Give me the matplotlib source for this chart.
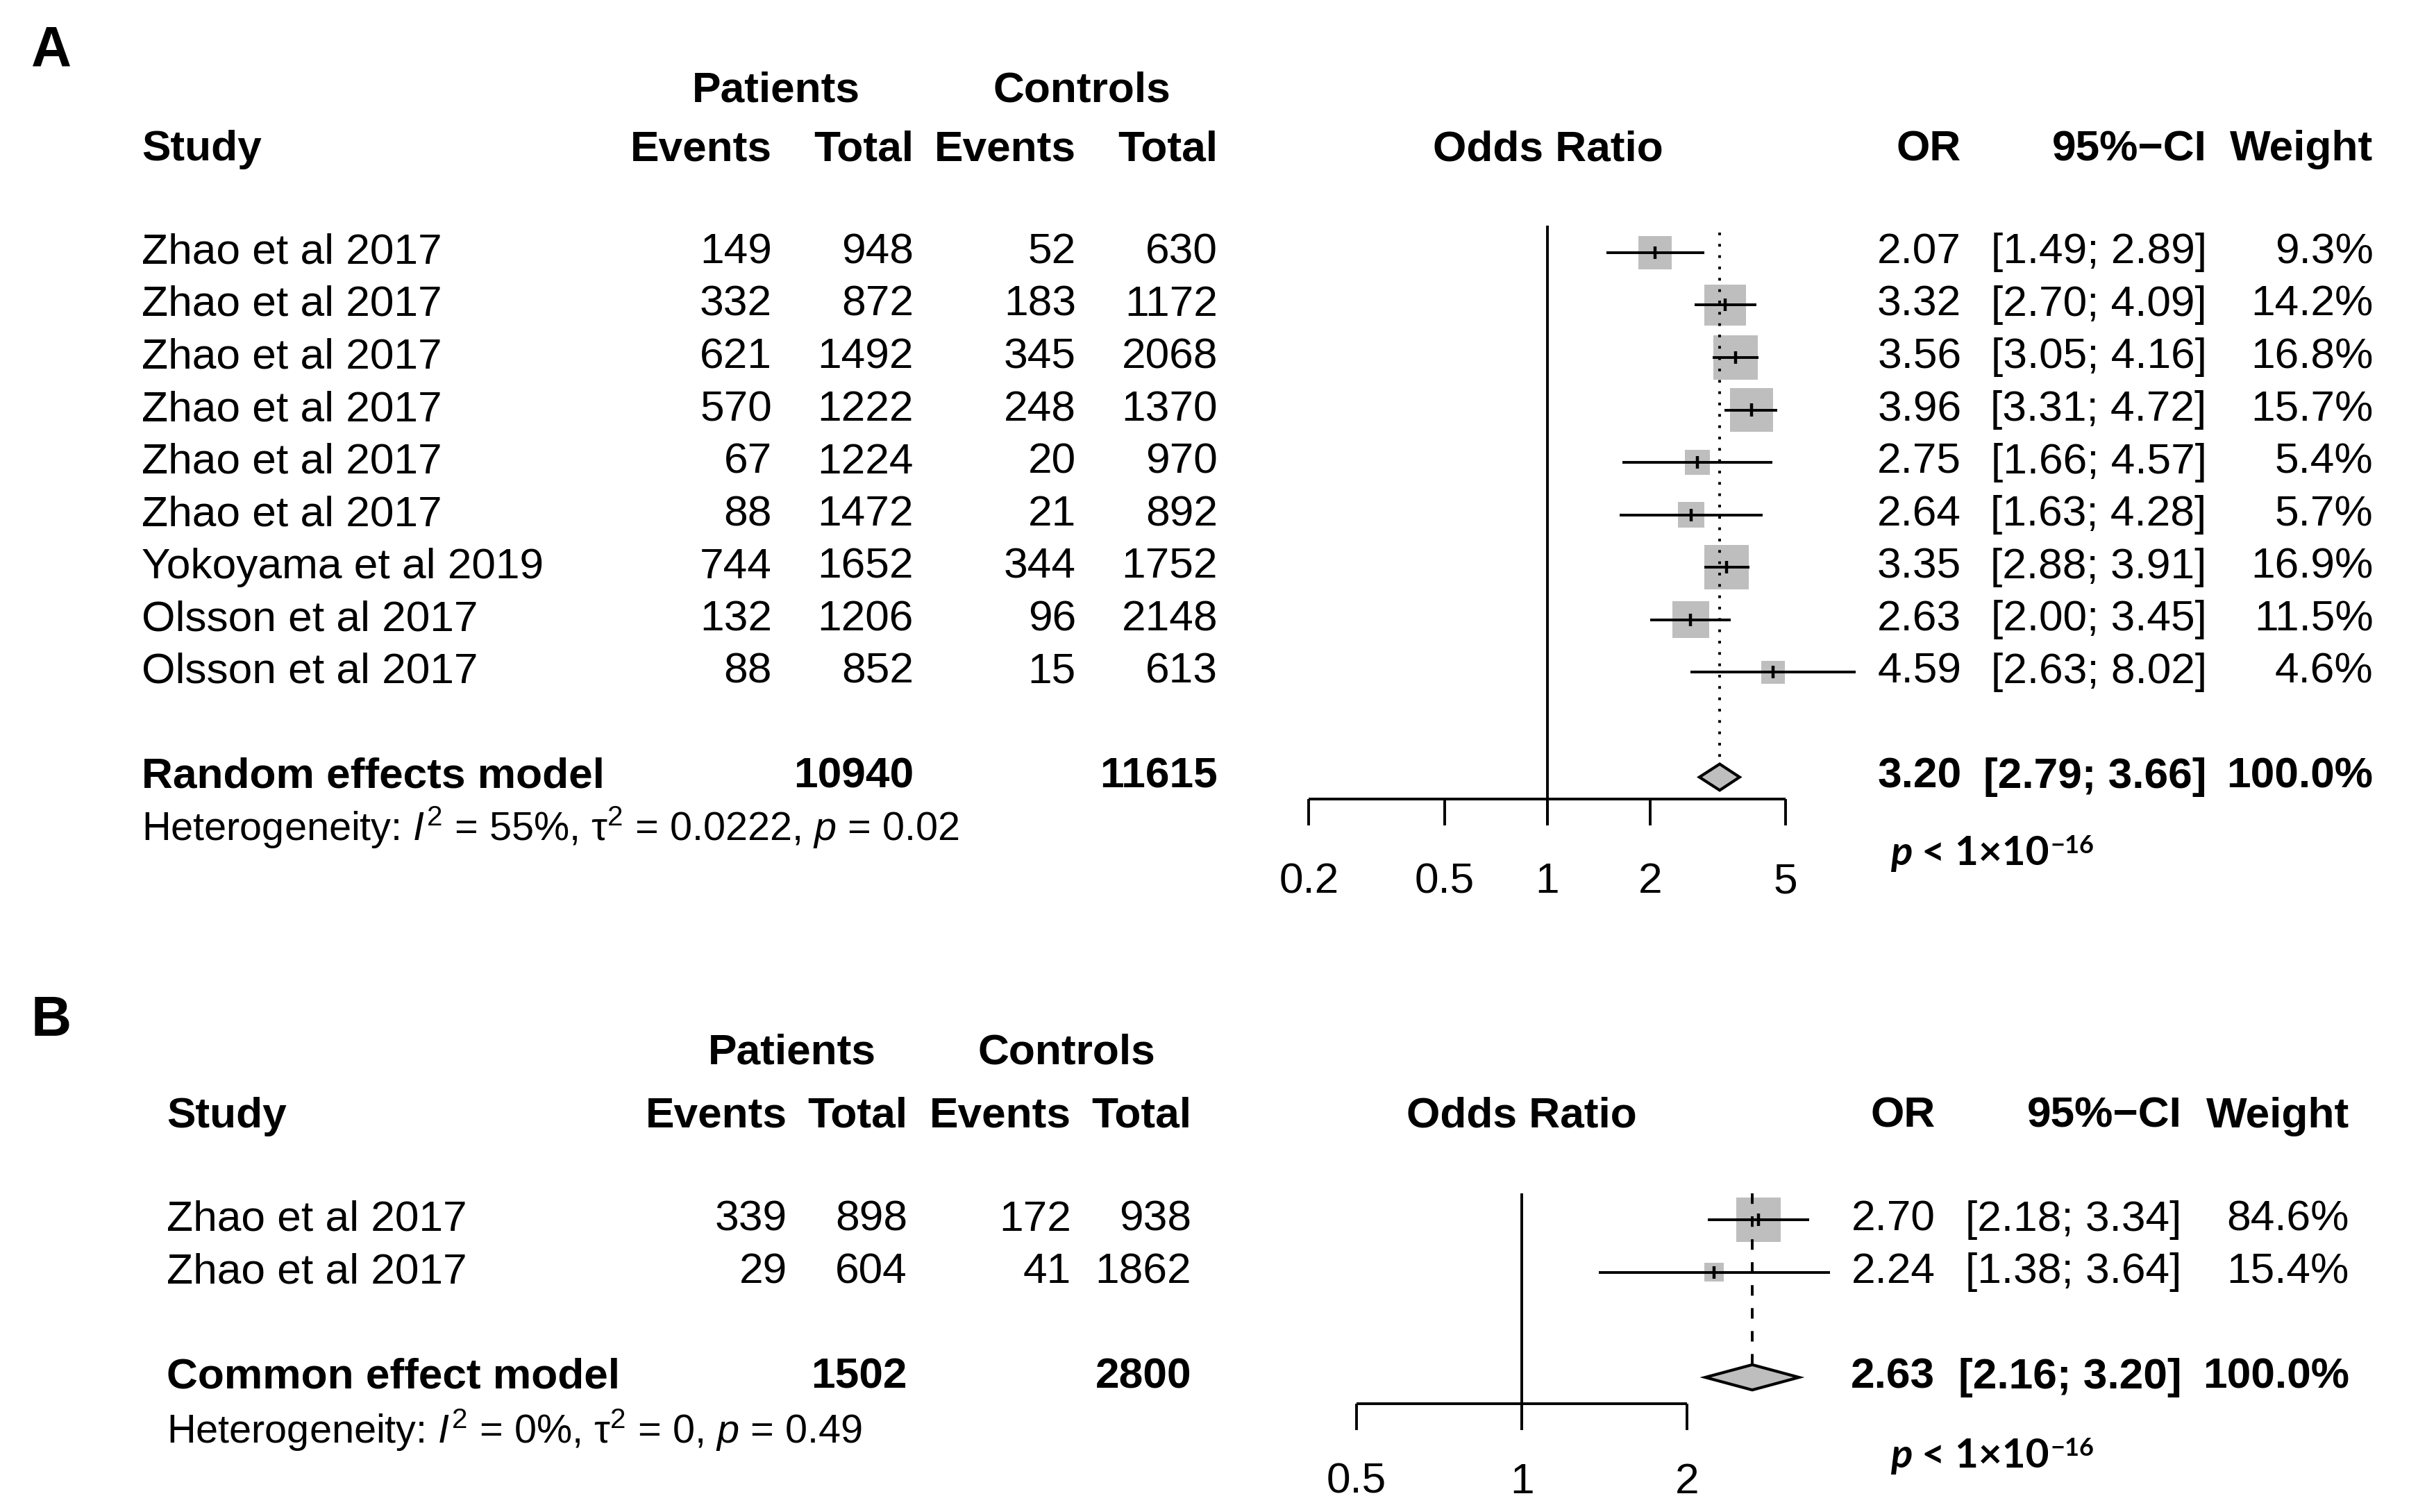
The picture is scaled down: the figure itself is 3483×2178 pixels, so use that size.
import matplotlib
matplotlib.use('Agg')
import matplotlib.pyplot as plt
from matplotlib.transforms import blended_transform_factory
from matplotlib.patches import Polygon

plt.rcParams['font.family'] = ['Liberation Sans', 'DejaVu Sans']
plt.rcParams['mathtext.fontset'] = 'custom'
plt.rcParams['mathtext.rm'] = 'Liberation Sans'
plt.rcParams['mathtext.it'] = 'Liberation Sans:italic'
plt.rcParams['mathtext.bf'] = 'Liberation Sans:bold'

W, H = 3483, 2178
K = 0.9955          # layout numbers below are measured in a slightly larger grid
FS = 44.8
HET_FS = 41.5
GREY = '#bebebe'
LW = 2.8

# ---- panel A data
studies_a = ['Zhao et al 2017'] * 6 + ['Yokoyama et al 2019', 'Olsson et al 2017', 'Olsson et al 2017']
pat_events_a = [149, 332, 621, 570, 67, 88, 744, 132, 88]
pat_total_a = [948, 872, 1492, 1222, 1224, 1472, 1652, 1206, 852]
ctl_events_a = [52, 183, 345, 248, 20, 21, 344, 96, 15]
ctl_total_a = [630, 1172, 2068, 1370, 970, 892, 1752, 2148, 613]
or_a = [2.07, 3.32, 3.56, 3.96, 2.75, 2.64, 3.35, 2.63, 4.59]
lo_a = [1.49, 2.70, 3.05, 3.31, 1.66, 1.63, 2.88, 2.00, 2.63]
hi_a = [2.89, 4.09, 4.16, 4.72, 4.57, 4.28, 3.91, 3.45, 8.02]
wt_a = [9.3, 14.2, 16.8, 15.7, 5.4, 5.7, 16.9, 11.5, 4.6]
pooled_a = [3.20, 2.79, 3.66]
totals_a = [10940, 11615]
model_a = 'Random effects model'
het_a = r'Heterogeneity: $\mathit{I}^{2}$ = 55%, τ$^{2}$ = 0.0222, $\mathit{p}$ = 0.02'
ticks_a = [0.2, 0.5, 1, 2, 5]

# ---- panel B data
studies_b = ['Zhao et al 2017', 'Zhao et al 2017']
pat_events_b = [339, 29]
pat_total_b = [898, 604]
ctl_events_b = [172, 41]
ctl_total_b = [938, 1862]
or_b = [2.70, 2.24]
lo_b = [2.18, 1.38]
hi_b = [3.34, 3.64]
wt_b = [84.6, 15.4]
pooled_b = [2.63, 2.16, 3.20]
totals_b = [1502, 2800]
model_b = 'Common effect model'
het_b = r'Heterogeneity: $\mathit{I}^{2}$ = 0%, τ$^{2}$ = 0, $\mathit{p}$ = 0.49'
ticks_b = [0.5, 1, 2]

fig = plt.figure(figsize=(W / 100, H / 100), dpi=100)


def panel(letter, studies, pe, pt, ce, ct, ors, los, his, wts, pooled, totals,
          model, het, ticks, lay):
    # forest axes: x in odds-ratio (log), y in row index
    x0, x1 = lay['fx']
    r0, step = lay['row0'], lay['step']
    top, bot = lay['ylim']
    y_top = (r0 + step * top) * K
    y_bot = (r0 + step * bot) * K
    ax = fig.add_axes([x0 * K / W, 1 - y_bot / H, (x1 - x0) * K / W, (y_bot - y_top) / H])
    ax.set_xscale('log')
    ax.set_xlim(ticks[0], ticks[-1])
    ax.set_ylim(bot, top)
    ax.axis('off')
    tr = blended_transform_factory(fig.transFigure, ax.transData)

    def put(xpx, row, s, ha='left', bold=False, size=FS):
        ax.text(xpx * K / W, row, s, transform=tr, ha=ha, va='center', fontsize=size,
                fontweight='bold' if bold else 'normal', clip_on=False)

    c = lay['cols']
    n = len(studies)
    srow = lay['summary_row']
    # headers
    put(45, lay['letter_row'], letter, bold=True, size=58)
    put(c['pat'], lay['h1'], 'Patients', ha='center', bold=True)
    put(c['ctl'], lay['h1'], 'Controls', ha='center', bold=True)
    put(c['study'], lay['h2'], 'Study', bold=True)
    put(c['pe'], lay['h2'], 'Events', ha='right', bold=True)
    put(c['pt'], lay['h2'], 'Total', ha='right', bold=True)
    put(c['ce'], lay['h2'], 'Events', ha='right', bold=True)
    put(c['ct'], lay['h2'], 'Total', ha='right', bold=True)
    put(c['forest'], lay['h2'], 'Odds Ratio', ha='center', bold=True)
    put(c['or'], lay['h2'], 'OR', ha='right', bold=True)
    put(c['ci'], lay['h2'], '95%−CI', ha='right', bold=True)
    put(c['wt'], lay['h2'], 'Weight', ha='right', bold=True)

    for i in range(n):
        put(c['study'], i, studies[i])
        put(c['pe'], i, str(pe[i]), ha='right')
        put(c['pt'], i, str(pt[i]), ha='right')
        put(c['ce'], i, str(ce[i]), ha='right')
        put(c['ct'], i, str(ct[i]), ha='right')
        put(c['or'], i, f'{ors[i]:.2f}', ha='right')
        put(c['ci'], i, f'[{los[i]:.2f}; {his[i]:.2f}]', ha='right')
        put(c['wt'], i, f'{wts[i]:.1f}%', ha='right')

    put(c['study'], srow, model, bold=True)
    put(c['pt'], srow, str(totals[0]), ha='right', bold=True)
    put(c['ct'], srow, str(totals[1]), ha='right', bold=True)
    put(c['or'], srow, f'{pooled[0]:.2f}', ha='right', bold=True)
    put(c['ci'], srow, f'[{pooled[1]:.2f}; {pooled[2]:.2f}]', ha='right', bold=True)
    put(c['wt'], srow, '100.0%', ha='right', bold=True)
    put(c['study'], lay['het_row'], het, size=HET_FS)

    # forest: squares with area proportional to weight
    rows = list(range(n))
    wmax = max(wts)
    ax.scatter(ors, rows, marker='s', s=[2150 * w / wmax for w in wts],
               color=GREY, linewidths=0, zorder=2, clip_on=False)
    ax.hlines(rows, los, his, color='black', lw=LW, zorder=3, clip_on=False)
    ax.vlines(ors, [r - 0.12 for r in rows], [r + 0.12 for r in rows],
              color='black', lw=3.2, zorder=4, clip_on=False)

    arow = lay['axis_row']
    tick_end = arow + lay['tick_len']
    ax.vlines(1, lay['ref_top'], tick_end, color='black', lw=LW, clip_on=False)
    ax.vlines(pooled[0], lay['pool_top'], srow - lay['dh'], color='black', lw=LW,
              linestyles=lay['pool_ls'], clip_on=False)
    dia = Polygon([(pooled[1], srow), (pooled[0], srow - lay['dh']),
                   (pooled[2], srow), (pooled[0], srow + lay['dh'])],
                  closed=True, facecolor=GREY, edgecolor='black', lw=3.0,
                  zorder=5, clip_on=False)
    ax.add_patch(dia)

    ax.hlines(arow, ticks[0], ticks[-1], color='black', lw=LW, clip_on=False)
    ax.vlines(ticks, arow, tick_end, color='black', lw=LW, clip_on=False)
    for t in ticks:
        ax.text(t, lay['tick_lab_row'], f'{t:g}', ha='center', va='center',
                fontsize=FS, clip_on=False)

    # p-value in a separate font, built from pieces
    pfam = ['Lato', 'DejaVu Sans']
    t1 = ax.text(lay['p_x'] * K / W, lay['p_row'], 'p', transform=tr, family=pfam,
                 fontstyle='italic', fontweight='bold', fontsize=42, va='baseline')
    t2 = ax.annotate(' < 1×10', xy=(1, 0), xycoords=t1, va='bottom', ha='left',
                     family=pfam, fontweight='bold', fontsize=42)
    ax.annotate('−16', xy=(1, 1), xycoords=t2, va='top', ha='left',
                xytext=(1, 1), textcoords='offset points',
                family=pfam, fontweight='bold', fontsize=26)
    return ax


lay_a = dict(fx=(1894, 2584), row0=365.5, step=75.9, ylim=(-1, 12.5),
             letter_row=-3.84, h1=-3.08, h2=-1.96, summary_row=10, het_row=10.96,
             axis_row=10.42, tick_len=0.5, tick_lab_row=12.0, p_row=11.68, p_x=2735,
             ref_top=-0.51, pool_top=-0.38, dh=0.25, pool_ls=(0, (1, 3.2)),
             cols={'study': 205, 'pat': 1123, 'ctl': 1565, 'pe': 1117, 'pt': 1322,
                   'ce': 1557, 'ct': 1762, 'forest': 2240, 'or': 2838, 'ci': 3193,
                   'wt': 3434})

lay_b = dict(fx=(1963, 2441), row0=1765, step=76, ylim=(-1, 5.4),
             letter_row=-3.78, h1=-3.17, h2=-1.97, summary_row=3, het_row=4.0,
             axis_row=3.5, tick_len=0.5, tick_lab_row=5.0, p_row=4.72, p_x=2735,
             ref_top=-0.5, pool_top=-0.5, dh=0.24, pool_ls=(0, (3.9, 4.6)),
             cols={'study': 241, 'pat': 1146, 'ctl': 1543, 'pe': 1139, 'pt': 1313,
                   'ce': 1550, 'ct': 1724, 'forest': 2202, 'or': 2800, 'ci': 3157,
                   'wt': 3399})

panel('A', studies_a, pat_events_a, pat_total_a, ctl_events_a, ctl_total_a,
      or_a, lo_a, hi_a, wt_a, pooled_a, totals_a, model_a, het_a, ticks_a, lay_a)
panel('B', studies_b, pat_events_b, pat_total_b, ctl_events_b, ctl_total_b,
      or_b, lo_b, hi_b, wt_b, pooled_b, totals_b, model_b, het_b, ticks_b, lay_b)

fig.savefig('out.png', dpi=100, facecolor='white')
